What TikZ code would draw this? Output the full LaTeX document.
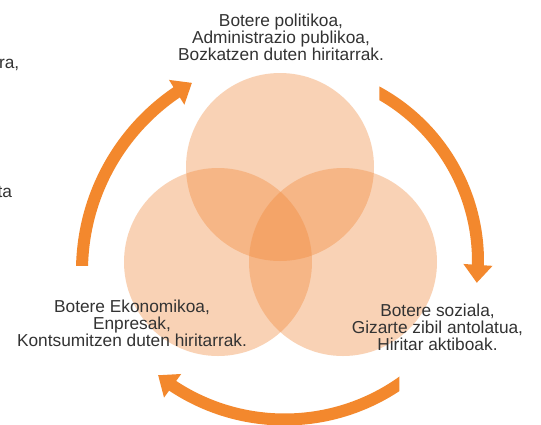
\documentclass[tikz,border=0pt]{standalone}
\usepackage{fontspec}
\setmainfont{Liberation Sans}
\usetikzlibrary{arrows.meta,bending,calc}
\definecolor{circfill}{RGB}{241,133,52}
\definecolor{arrowor}{RGB}{243,136,45}
\definecolor{txtgray}{RGB}{51,51,51}
\tikzset{
  venn/.style={fill=circfill, fill opacity=0.36, draw=none},
  label/.style={align=center, inner sep=0pt, text=txtgray, font=\fontsize{17.3}{17.3}\selectfont},
  cyclearrow/.style={draw=arrowor, line width=12pt, -{Triangle[width=28pt,length=18pt,flex]}},
}
\begin{document}
\begin{tikzpicture}[x=1pt,y=1pt]
\useasboundingbox (0,0) rectangle (541,-424);
\fill[white] (0,0) rectangle (541,-424);
\clip (0,0) rectangle (541,-424);
% circles
\coordinate (ctop) at (280,-167);
\coordinate (cleft) at (218,-262);
\coordinate (cright) at (343,-262);
\fill[venn] (ctop) circle[radius=94];
\fill[venn] (cleft) circle[radius=94];
\fill[venn] (cright) circle[radius=94];
% arrows
\coordinate (a1c) at (298,-271);
\coordinate (a2c) at (285.4,-261.4);
\coordinate (a3c) at (284.6,-216.7);
\begin{scope}
  \clip (0,-265) rectangle (541,0);
  \draw[cyclearrow] ($(a1c)+(183:216pt)$) coordinate (a1s) arc[start angle=183, end angle=119.4, radius=216pt] coordinate (a1e);
\end{scope}
\begin{scope}
  \clip (379.3,0) rectangle (541,-424);
  \draw[cyclearrow] ($(a2c)+(65:192.6pt)$) coordinate (a2s) arc[start angle=65, end angle=-6.4, radius=192.6pt] coordinate (a2e);
\end{scope}
\begin{scope}
  \clip (0,0) rectangle (399.3,-424);
  \draw[cyclearrow] ($(a3c)+(-50:202.8pt)$) coordinate (a3s) arc[start angle=-50, end angle=-128.6, radius=202.8pt] coordinate (a3e);
\end{scope}
% texts (anchor base = baseline of the last line)
\node[label, anchor=base] (tpol) at (281,-60.7) {Botere politikoa,\\Administrazio publikoa,\\Bozkatzen duten hiritarrak.};
\node[label, anchor=base] (tek) at (132,-346.7) {Botere Ekonomikoa,\\Enpresak,\\Kontsumitzen duten hiritarrak.};
\node[label, anchor=base] (tsoz) at (437.5,-350.7) {Botere soziala,\\Gizarte zibil antolatua,\\Hiritar aktiboak.};
\node[label, anchor=base east] (tcut1) at (19.5,-68.3) {era,};
\node[label, anchor=base east] (tcut2) at (12.3,-197) {ta};
\end{tikzpicture}
\end{document}
